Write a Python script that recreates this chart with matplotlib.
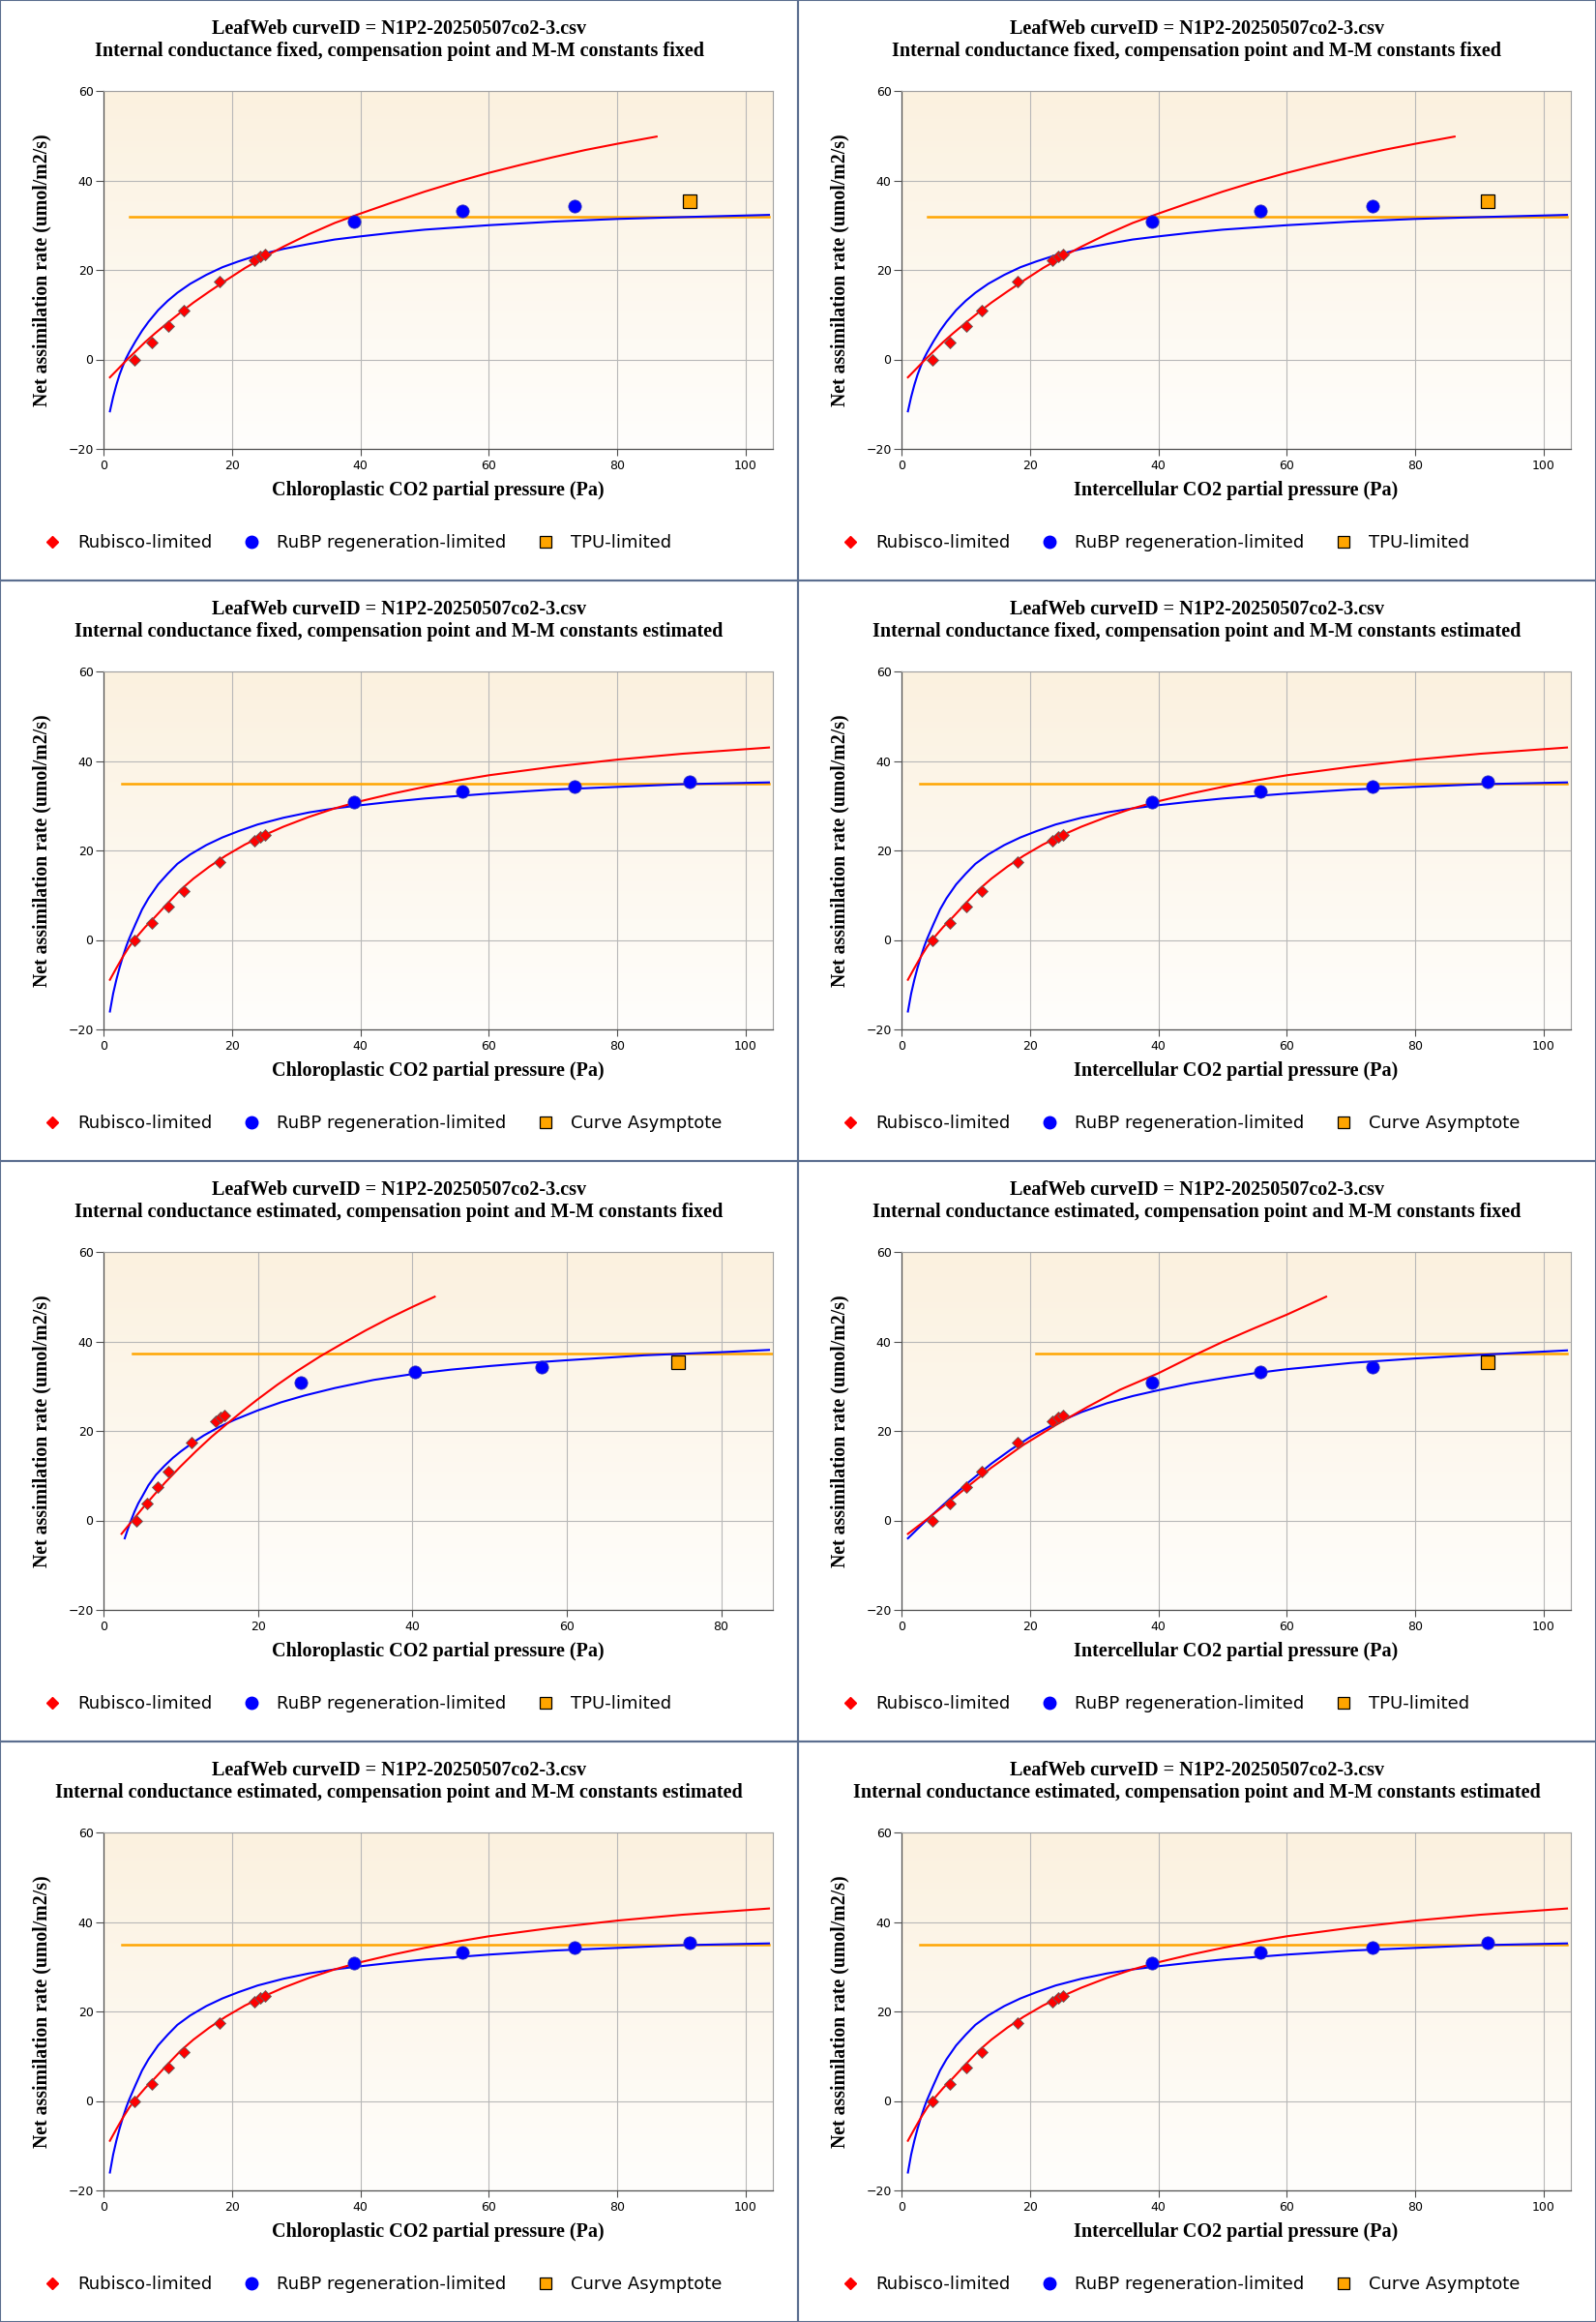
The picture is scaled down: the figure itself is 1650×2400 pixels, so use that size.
import matplotlib
matplotlib.use('Agg')
import matplotlib.pyplot as plt
import numpy as np
from matplotlib.colors import LinearSegmentedColormap
from matplotlib.lines import Line2D
from matplotlib.patches import Rectangle

title_top = 'LeafWeb curveID = N1P2-20250507co2-3.csv'
subtitles = ['Internal conductance fixed, compensation point and M-M constants fixed',
             'Internal conductance fixed, compensation point and M-M constants estimated',
             'Internal conductance estimated, compensation point and M-M constants fixed',
             'Internal conductance estimated, compensation point and M-M constants estimated']
xlabels = ['Chloroplastic CO2 partial pressure (Pa)', 'Intercellular CO2 partial pressure (Pa)']
ylabel = 'Net assimilation rate (umol/m2/s)'
third_labels = ['TPU-limited', 'Curve Asymptote', 'TPU-limited', 'Curve Asymptote']

# measured points (intercellular / chloroplastic with infinite gm)
ci_rub = [4.8, 7.5, 10.1, 12.5, 18.1, 23.5, 24.4, 25.1]
a_rub = [0.0, 3.7, 7.5, 11.0, 17.5, 22.2, 23.0, 23.5]
ci_rubp = [39.0, 55.8, 73.3]
a_rubp = [30.8, 33.2, 34.3]
ci_tpu = [91.3]
a_tpu = [35.4]
# points on chloroplastic axis when gm is estimated
cc_rub = [4.2, 5.6, 7.0, 8.45, 11.45, 14.5, 15.1, 15.6]
cc_rubp = [25.5, 40.3, 56.8]
cc_tpu = [74.4]

# fitted curves
# A: gm fixed, constants fixed
redA_x = [1.0, 2.5, 3.7, 5.0, 6.5, 8.0, 10.0, 12.0, 14.0, 16.5, 19.1, 22.0, 25.0, 28.0,
          32.0, 36.0, 40.0, 45.0, 50.0, 55.0, 60.0, 65.0, 70.0, 75.0, 80.0, 86.1]
redA_y = [-4.0, -1.8, 0.0, 1.8, 3.9, 5.8, 8.2, 10.5, 12.7, 15.2, 17.7, 20.4, 22.9, 25.2,
          28.0, 30.5, 32.6, 35.1, 37.5, 39.7, 41.7, 43.5, 45.2, 46.8, 48.2, 49.8]
blueA_x = [1.0, 1.5, 2.0, 2.5, 3.0, 3.5, 4.0, 5.0, 6.0, 7.0, 8.5, 10.0, 11.5, 13.5, 16.0,
           18.5, 21.0, 24.0, 28.0, 32.0, 36.0, 40.0, 45.0, 50.0, 60.0, 70.0, 80.0, 90.0, 103.6]
blueA_y = [-11.6, -8.4, -5.7, -3.4, -1.5, 0.2, 1.6, 4.1, 6.4, 8.4, 11.0, 13.1, 14.9, 16.9,
           18.9, 20.6, 21.9, 23.3, 24.7, 25.8, 26.8, 27.5, 28.3, 29.0, 30.0, 30.8, 31.4, 31.8, 32.3]
orangeA_x = [4.0, 103.6]
orangeA_y = [31.8, 31.8]

# B: gm fixed, constants estimated
redB_x = [1.0, 2.0, 3.0, 4.0, 5.0, 6.5, 8.0, 10.0, 12.0, 14.0, 16.5, 19.0, 22.0, 25.0,
          28.0, 32.0, 36.0, 40.0, 45.0, 50.0, 55.0, 60.0, 70.0, 80.0, 90.0, 103.6]
redB_y = [-8.9, -6.3, -3.8, -1.5, 0.4, 2.9, 5.1, 8.2, 11.2, 13.7, 16.4, 18.8, 21.3, 23.4,
          25.3, 27.5, 29.4, 31.0, 32.7, 34.2, 35.6, 36.8, 38.7, 40.3, 41.6, 43.0]
blueB_x = [1.0, 1.5, 2.0, 2.5, 3.0, 3.5, 4.0, 5.0, 6.0, 7.0, 8.5, 10.0, 11.5, 13.5, 16.0,
           18.5, 21.0, 24.0, 28.0, 32.0, 36.0, 40.0, 45.0, 50.0, 60.0, 70.0, 80.0, 90.0, 103.6]
blueB_y = [-16.0, -12.0, -8.9, -6.2, -3.8, -1.6, 0.3, 3.6, 6.8, 9.3, 12.4, 14.8, 17.0, 19.1,
           21.2, 22.9, 24.3, 25.8, 27.3, 28.5, 29.4, 30.1, 30.9, 31.6, 32.7, 33.6, 34.2, 34.8, 35.2]
orangeB_x = [2.9, 103.6]
orangeB_y = [35.0, 35.0]

# C: gm estimated, chloroplastic axis
redC_x = [2.34, 3.0, 4.0, 5.0, 6.5, 8.0, 10.0, 12.0, 14.0, 16.0, 18.0, 20.0, 22.5, 25.0,
          28.0, 31.0, 34.0, 37.0, 40.0, 42.9]
redC_y = [-3.0, -1.6, 0.5, 2.6, 5.6, 8.5, 12.1, 15.5, 18.7, 21.6, 24.4, 27.1, 30.3, 33.3,
          36.6, 39.6, 42.5, 45.2, 47.7, 50.0]
blueC_x = [2.75, 3.1, 3.5, 4.0, 4.5, 5.0, 5.8, 6.8, 7.9, 9.0, 10.0, 11.5, 13.0, 15.0, 17.0,
           20.0, 23.0, 26.0, 30.0, 35.0, 40.0, 45.0, 50.0, 55.0, 60.0, 70.0, 80.0, 86.2]
blueC_y = [-4.0, -2.2, -0.3, 1.9, 3.8, 5.3, 7.8, 10.2, 12.2, 14.0, 15.4, 17.3, 19.0, 20.9,
           22.5, 24.6, 26.4, 27.9, 29.6, 31.4, 32.7, 33.7, 34.5, 35.2, 35.8, 36.9, 37.6, 38.1]
orangeC_x = [3.76, 86.7]
orangeC_y = [37.2, 37.2]

# D: gm estimated, intercellular axis
redD_x = [1.0, 4.0, 7.5, 10.5, 14.0, 19.0, 24.0, 29.0, 34.0, 40.0, 46.0, 50.0, 55.0, 60.0, 66.1]
redD_y = [-3.0, 0.3, 4.3, 7.8, 11.8, 16.9, 21.3, 25.4, 29.2, 32.9, 37.2, 39.9, 43.0, 46.0, 50.0]
blueD_x = [1.0, 4.0, 7.5, 10.5, 14.0, 17.0, 20.0, 24.0, 28.0, 32.0, 36.0, 40.0, 45.0, 50.0,
           55.0, 60.0, 70.0, 80.0, 90.0, 103.6]
blueD_y = [-4.0, 0.2, 4.8, 8.6, 12.7, 15.8, 18.6, 21.7, 24.2, 26.2, 27.8, 29.1, 30.6, 31.8,
           32.9, 33.8, 35.2, 36.2, 37.0, 38.0]
orangeD_x = [21.0, 103.6]
orangeD_y = [37.2, 37.2]

W, H = 1650, 2400
PW, PH = 825, 600
fig = plt.figure(figsize=(W / 100, H / 100), dpi=100)
fig.patch.set_facecolor('white')

bg = LinearSegmentedColormap.from_list('bg', ['#fbf1df', '#fffefc'])
serif = 'Liberation Serif'


def panel(row, col, curves, pts, tpu_pts, n_circ, xmax):
    x0, y0 = col * PW, row * PH
    ax = fig.add_axes([(x0 + 107) / W, 1 - (y0 + 464) / H, 692 / W, 370 / H])
    ax.imshow(np.linspace(0, 1, 256).reshape(-1, 1), cmap=bg, extent=[0, 1, 0, 1],
              transform=ax.transAxes, aspect='auto', zorder=0)
    (rx, ry), (bx, by), (ox, oy) = curves
    ax.plot(ox, oy, color='#ffa500', lw=1.8, zorder=2)
    ax.plot(bx, by, color='#0000ff', lw=1.5, zorder=3)
    ax.plot(rx, ry, color='#ff0000', lw=1.5, zorder=4)
    px_rub, px_rubp = pts
    ax.plot(px_rub, a_rub, 'D', ms=6, color='#ff0000', mec='#606060', mew=0.6, zorder=5)
    xs = list(px_rubp) + list(tpu_pts)
    ys = list(a_rubp) + list(a_tpu)
    ax.plot(xs[:n_circ], ys[:n_circ], 'o', ms=9.5, color='#0000ff', mec='#3030c0', mew=0.6, zorder=5)
    if n_circ == 3:
        ax.plot(tpu_pts, a_tpu, 's', ms=9.5, color='#ffa500', mec='black', mew=0.9, zorder=5)
    ax.set_xlim(0, xmax)
    ax.set_ylim(-20, 60)
    ax.set_xticks(np.arange(0, xmax, 20))
    ax.set_yticks(np.arange(-20, 61, 20))
    ax.grid(True, color='#b8b8b8', lw=0.8)
    ax.set_axisbelow(True)
    for s in ['top', 'right']:
        ax.spines[s].set_color('#a0a0a0')
        ax.spines[s].set_linewidth(0.8)
    for s in ['left', 'bottom']:
        ax.spines[s].set_color('#505050')
        ax.spines[s].set_linewidth(0.9)
    ax.tick_params(axis='y', length=6, pad=1.5, color='#505050', labelsize=9)
    ax.tick_params(axis='x', length=5, pad=3, color='#505050', labelsize=9)
    ax.set_xlabel(xlabels[col], fontfamily=serif, fontweight='bold', fontsize=14.5)
    ax.xaxis.set_label_coords(0.5, -(507 - 464) / 370)
    ax.xaxis.label.set_va('center')
    ax.set_ylabel(ylabel, fontfamily=serif, fontweight='bold', fontsize=14.2)
    ax.yaxis.set_label_coords((43 - 107) / 692, 0.5)
    ax.yaxis.label.set_va('center')

    fig.text((x0 + 412.5) / W, 1 - (y0 + 30) / H, title_top, ha='center', va='center',
             fontfamily=serif, fontweight='bold', fontsize=14.5)
    fig.text((x0 + 412.5) / W, 1 - (y0 + 53) / H, subtitles[row], ha='center', va='center',
             fontfamily=serif, fontweight='bold', fontsize=14.5)

    handles = [Line2D([], [], ls='none', marker='D', ms=6, color='#ff0000', mec='#ff0000'),
               Line2D([], [], ls='none', marker='o', ms=9, color='#0000ff', mec='#0000ff'),
               Line2D([], [], ls='none', marker='s', ms=9, color='#ffa500', mec='black', mew=0.9)]
    labels = ['Rubisco-limited', 'RuBP regeneration-limited', third_labels[row]]
    ax.legend(handles, labels, loc='center left', ncol=3, frameon=False,
              bbox_to_anchor=((x0 + 45) / W, 1 - (y0 + 561) / H), bbox_transform=fig.transFigure,
              fontsize=13, handlelength=1.0, handletextpad=0.94, columnspacing=1.76,
              borderpad=0, borderaxespad=0)

    fig.add_artist(Rectangle((x0 / W, 1 - (y0 + PH) / H), PW / W, PH / H, transform=fig.transFigure,
                             fill=False, ec='#5b6e8f', lw=1.5))
    return ax


setA = ((redA_x, redA_y), (blueA_x, blueA_y), (orangeA_x, orangeA_y))
setB = ((redB_x, redB_y), (blueB_x, blueB_y), (orangeB_x, orangeB_y))
setC = ((redC_x, redC_y), (blueC_x, blueC_y), (orangeC_x, orangeC_y))
setD = ((redD_x, redD_y), (blueD_x, blueD_y), (orangeD_x, orangeD_y))

for col in range(2):
    panel(0, col, setA, (ci_rub, ci_rubp), ci_tpu, 3, 104.2)
    panel(1, col, setB, (ci_rub, ci_rubp), ci_tpu, 4, 104.2)
    panel(3, col, setB, (ci_rub, ci_rubp), ci_tpu, 4, 104.2)
panel(2, 0, setC, (cc_rub, cc_rubp), cc_tpu, 3, 86.7)
panel(2, 1, setD, (ci_rub, ci_rubp), ci_tpu, 3, 104.2)

fig.savefig('out.png', dpi=100)
